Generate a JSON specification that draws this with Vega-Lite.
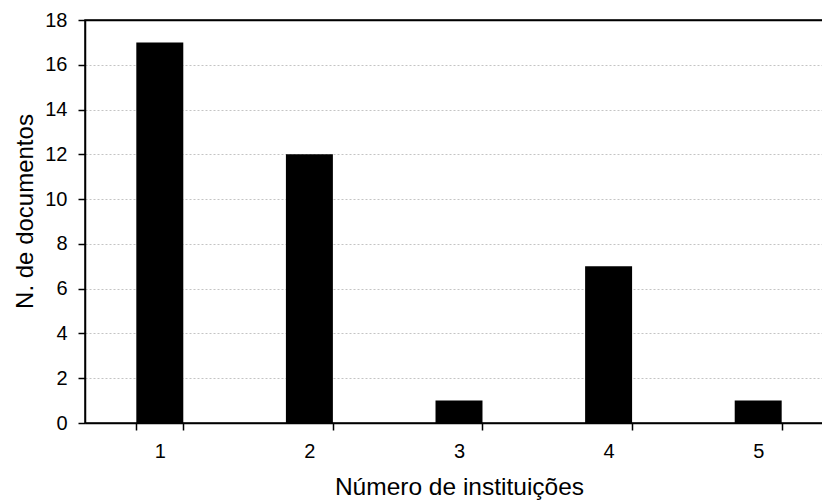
{
  "$schema": "https://vega.github.io/schema/vega-lite/v6.json",
  "autosize": {"type": "none"},
  "padding": {"left": 85, "top": 20, "right": 0, "bottom": 78},
  "width": 748,
  "height": 403,
  "background": "white",
  "config": {
    "view": {"stroke": "#000", "strokeWidth": 1.5},
    "font": "Liberation Sans"
  },
  "data": {
    "values": [
      {"instituicoes": "1", "documentos": 17},
      {"instituicoes": "2", "documentos": 12},
      {"instituicoes": "3", "documentos": 1},
      {"instituicoes": "4", "documentos": 7},
      {"instituicoes": "5", "documentos": 1}
    ]
  },
  "mark": {"type": "bar", "color": "#000"},
  "encoding": {
    "x": {
      "field": "instituicoes",
      "type": "ordinal",
      "scale": {"paddingInner": 0.686, "paddingOuter": 0.343},
      "axis": {
        "title": "Número de instituições",
        "labelAngle": 0,
        "labelFontSize": 20,
        "labelColor": "#000",
        "labelPadding": 11,
        "tickBand": "extent",
        "tickSize": 7,
        "tickWidth": 1.5,
        "tickColor": "#000",
        "domainColor": "#000",
        "domainWidth": 1.5,
        "titleFontSize": 24.5,
        "titleFontWeight": "normal",
        "titleColor": "#000",
        "titleBaseline": "alphabetic",
        "titleY": 71
      }
    },
    "y": {
      "field": "documentos",
      "type": "quantitative",
      "scale": {"domain": [0, 18], "nice": false},
      "axis": {
        "title": "N. de documentos",
        "values": [0, 2, 4, 6, 8, 10, 12, 14, 16, 18],
        "labelFontSize": 20,
        "labelColor": "#000",
        "labelPadding": 11,
        "tickSize": 7,
        "tickWidth": 1.5,
        "tickColor": "#000",
        "domainColor": "#000",
        "domainWidth": 1.5,
        "grid": true,
        "gridColor": {"condition": {"test": "datum.value == 18", "value": "#000"}, "value": "#c4c4c4"},
        "gridDash": {"condition": {"test": "datum.value == 18", "value": []}, "value": [2, 2]},
        "gridWidth": {"condition": {"test": "datum.value == 18", "value": 1.5}, "value": 1},
        "titleFontSize": 24,
        "titleFontWeight": "normal",
        "titleColor": "#000",
        "titleBaseline": "alphabetic",
        "titleX": -53,
        "titleY": 191
      }
    }
  }
}
